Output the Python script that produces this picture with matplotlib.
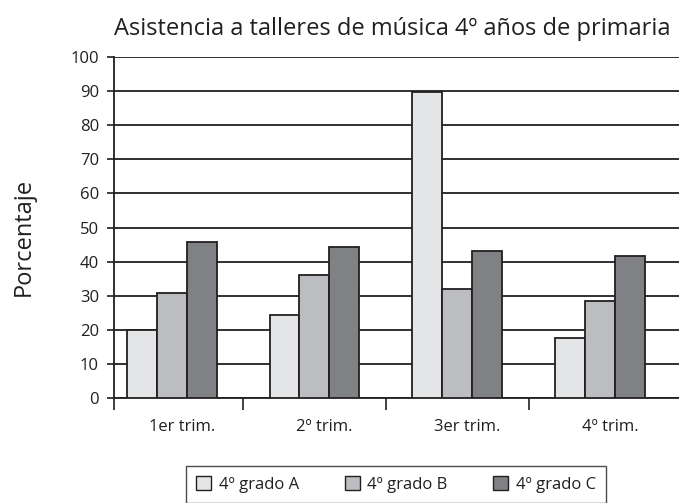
import matplotlib
matplotlib.use("Agg")
import matplotlib.pyplot as plt
import matplotlib.transforms as mtransforms
from matplotlib.patches import Patch
import numpy as np

plt.rcParams['font.family'] = ['Open Sans', 'DejaVu Sans']

categories = ["1er trim.", "2º trim.", "3er trim.", "4º trim."]
series_names = ["4º grado A", "4º grado B", "4º grado C"]
grado_a = [20, 24.4, 89.7, 17.4]
grado_b = [30.7, 36.1, 32.0, 28.5]
grado_c = [45.7, 44.3, 43.0, 41.7]
yticks = list(range(0, 101, 10))
title = "Asistencia a talleres de música 4º años de primaria"
ylabel = "Porcentaje"

colors = ["#e4e5e7", "#bcbdc0", "#808184"]
edge = "#231f20"

fig = plt.figure(figsize=(6.79, 5.03), dpi=100)
ax = fig.add_axes([114.3 / 679, 1 - 397.7 / 503, 1 - 114.3 / 679, (397.7 - 57.3) / 503])

x = np.arange(len(categories))
w = 0.21
for i, (vals, c) in enumerate(zip([grado_a, grado_b, grado_c], colors)):
    ax.bar(x + (i - 1) * w, vals, width=w, color=c, edgecolor=edge, linewidth=1.3, zorder=3)

ax.set_xlim(-0.402, 3.553)
ax.set_ylim(0, 100)
ax.set_yticks(yticks)
ax.yaxis.grid(True, color=edge, linewidth=1.3, zorder=0)
ax.set_axisbelow(True)
ax.tick_params(axis='y', direction='out', length=5, width=1.2, color=edge,
               labelsize=12, pad=6, labelcolor=edge)

# category boundaries as major ticks, names as minor ticks
ax.set_xticks([-0.402, 0.5, 1.5, 2.5])
ax.set_xticklabels(["", "", "", ""])
ax.set_xticks(x, minor=True)
ax.set_xticklabels(categories, minor=True)
ax.tick_params(axis='x', which='major', direction='out', length=8.5, width=1.2, color=edge)
ax.tick_params(axis='x', which='minor', length=0, labelsize=12, pad=15, labelcolor=edge)
offset = mtransforms.ScaledTranslation(10 / 100, 0, fig.dpi_scale_trans)
for lab in ax.get_xticklabels(minor=True):
    lab.set_transform(lab.get_transform() + offset)

for s in ["top", "right"]:
    ax.spines[s].set_visible(False)
for s in ["left", "bottom"]:
    ax.spines[s].set_color(edge)
    ax.spines[s].set_linewidth(1.3)

fig.text(392 / 679, 1 - 35 / 503, title, ha='center', va='baseline', fontsize=17, color=edge)
fig.text(24 / 679, 1 - 237 / 503, ylabel, ha='center', va='center', rotation=90,
         fontsize=17, color=edge)

handles = [Patch(facecolor=c, edgecolor=edge, linewidth=1.0) for c in colors]
leg = fig.legend(handles, series_names, loc='upper center', ncol=3,
                 bbox_to_anchor=(396 / 679, 1 - 466 / 503), fontsize=12,
                 frameon=True, fancybox=False, edgecolor=edge, handlelength=0.9,
                 handleheight=0.9, handletextpad=0.45, columnspacing=2.75,
                 borderpad=0.6, borderaxespad=0)
leg.get_frame().set_linewidth(1.0)
for t in leg.get_texts():
    t.set_color(edge)

fig.savefig("out.png", dpi=100)
